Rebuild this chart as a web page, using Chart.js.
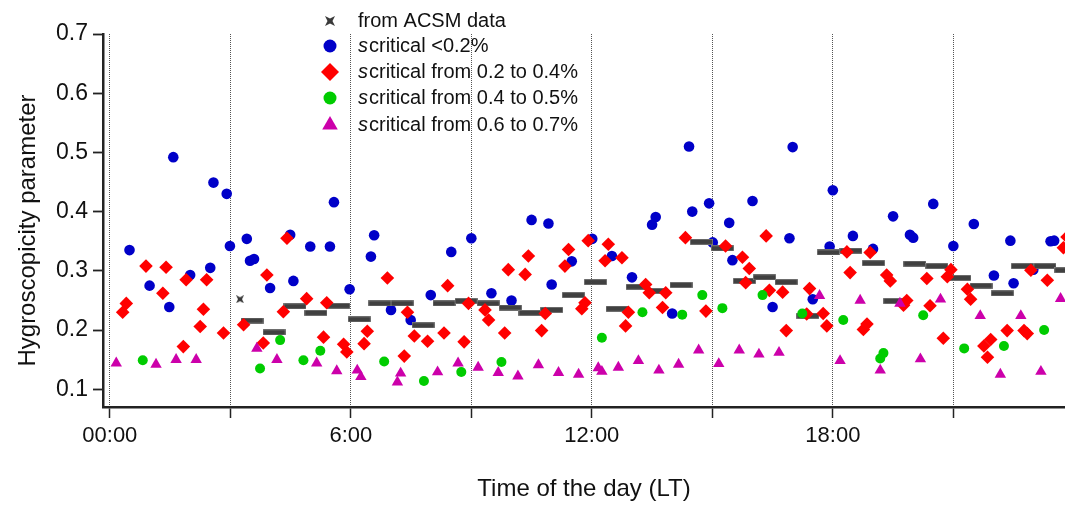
<!DOCTYPE html>
<html>
<head>
<meta charset="utf-8">
<script src="https://cdn.jsdelivr.net/npm/chart.js@4.4.1/dist/chart.umd.min.js"></script>
<style>
    body { margin: 0; background: #fff; }
</style>
</head>
<body>
<canvas id="kappaChart" width="1065" height="506"></canvas>
<script>
// Hygroscopicity parameter over the day, time in hours (LT)

// ACSM derived kappa (first value is a single sample, the rest are ~30 min means)
const acsmHours = [3.24, 3.54, 4.09, 4.61, 5.13, 5.70, 6.21, 6.72, 7.28, 7.80, 8.32, 8.87, 9.42, 9.97, 10.46, 11.00,
    11.54, 12.09, 12.63, 13.13, 13.62, 14.22, 14.73, 15.25, 15.80, 16.30, 16.84, 17.38, 17.89, 18.45, 19.01, 19.54,
    20.04, 20.59, 21.16, 21.69, 22.22, 22.72, 23.28, 23.80];
const acsmKappa = [0.252, 0.216, 0.196, 0.240, 0.229, 0.241, 0.218, 0.245, 0.245, 0.208, 0.245, 0.249, 0.245, 0.238, 0.229, 0.234,
    0.259, 0.281, 0.236, 0.273, 0.266, 0.276, 0.349, 0.338, 0.283, 0.289, 0.281, 0.224, 0.331, 0.334, 0.313, 0.249,
    0.312, 0.308, 0.288, 0.275, 0.262, 0.308, 0.308, 0.301];

// s critical < 0.2 %
const sc02Hours = [0.49, 0.99, 1.48, 1.58, 2.00, 2.50, 2.58, 2.91, 2.99, 3.41, 3.49, 3.59, 3.99, 4.49, 4.57, 4.99,
    5.48, 5.58, 5.97, 6.50, 6.58, 7.00, 7.49, 7.99, 8.50, 9.00, 9.50, 10.00, 10.50, 10.92, 11.00, 11.50,
    12.01, 12.50, 13.00, 13.50, 13.59, 14.00, 14.42, 14.50, 14.92, 15.01, 15.42, 15.50, 16.00, 16.50, 16.92, 17.00,
    17.50, 17.92, 18.00, 18.50, 19.00, 19.50, 19.92, 20.00, 20.50, 21.00, 21.51, 22.01, 22.42, 22.50, 22.99, 23.42, 23.51];
const sc02Kappa = [0.335, 0.275, 0.239, 0.492, 0.293, 0.305, 0.449, 0.430, 0.342, 0.354, 0.317, 0.320, 0.271, 0.361, 0.283, 0.341,
    0.341, 0.416, 0.269, 0.324, 0.360, 0.234, 0.217, 0.259, 0.332, 0.355, 0.262, 0.250, 0.386, 0.380, 0.277, 0.316,
    0.354, 0.325, 0.289, 0.378, 0.391, 0.228, 0.510, 0.400, 0.414, 0.348, 0.381, 0.318, 0.418, 0.239, 0.355, 0.509,
    0.252, 0.341, 0.436, 0.359, 0.337, 0.392, 0.361, 0.356, 0.413, 0.342, 0.379, 0.292, 0.351, 0.279, 0.302, 0.350, 0.351];

// s critical from 0.2 to 0.4 %
const sc24Hours = [0.32, 0.41, 0.90, 1.32, 1.40, 1.83, 1.90, 2.25, 2.33, 2.41, 2.83, 3.33, 3.82, 3.91, 4.32, 4.41,
    4.90, 5.32, 5.40, 5.82, 5.90, 6.33, 6.41, 6.91, 7.33, 7.41, 7.58, 7.91, 8.32, 8.41, 8.82, 8.93,
    9.34, 9.43, 9.83, 9.92, 10.34, 10.42, 10.75, 10.84, 11.33, 11.42, 11.75, 11.83, 11.91, 12.33, 12.41, 12.75,
    12.84, 12.91, 13.34, 13.43, 13.76, 13.84, 14.33, 14.84, 15.33, 15.75, 15.83, 15.92, 16.34, 16.42, 16.75, 16.84,
    17.35, 17.42, 17.76, 17.85, 18.35, 18.43, 18.76, 18.85, 18.93, 19.34, 19.43, 19.76, 19.84, 20.34, 20.42, 20.75,
    20.85, 20.94, 21.35, 21.43, 21.76, 21.85, 21.93, 22.34, 22.76, 22.84, 22.93, 23.34, 23.74, 23.83];
const sc24Kappa = [0.230, 0.245, 0.308, 0.262, 0.306, 0.172, 0.285, 0.206, 0.235, 0.285, 0.195, 0.209, 0.178, 0.293, 0.231, 0.355,
    0.253, 0.188, 0.246, 0.176, 0.163, 0.177, 0.198, 0.288, 0.156, 0.230, 0.190, 0.181, 0.195, 0.275, 0.180, 0.245,
    0.234, 0.217, 0.195, 0.302, 0.294, 0.325, 0.199, 0.228, 0.308, 0.336, 0.236, 0.246, 0.351, 0.317, 0.345, 0.322,
    0.207, 0.230, 0.277, 0.263, 0.238, 0.263, 0.356, 0.232, 0.342, 0.323, 0.280, 0.304, 0.359, 0.267, 0.264, 0.199,
    0.227, 0.270, 0.228, 0.207, 0.332, 0.297, 0.201, 0.210, 0.331, 0.293, 0.283, 0.242, 0.250, 0.287, 0.241, 0.186,
    0.290, 0.302, 0.269, 0.252, 0.173, 0.154, 0.184, 0.199, 0.199, 0.194, 0.301, 0.284, 0.339, 0.357];

// s critical from 0.4 to 0.5 %
const sc45Hours = [0.82, 3.74, 4.24, 4.82, 5.24, 6.83, 7.82, 8.75, 9.75, 12.25, 13.26, 14.25, 14.75, 15.25, 16.25, 17.24,
    18.26, 19.18, 19.26, 20.25, 21.27, 22.26, 23.26];
const sc45Kappa = [0.149, 0.135, 0.183, 0.149, 0.165, 0.147, 0.114, 0.129, 0.146, 0.187, 0.230, 0.226, 0.259, 0.237, 0.259, 0.228,
    0.217, 0.152, 0.161, 0.225, 0.169, 0.173, 0.200];

// s critical from 0.6 to 0.7 %
const sc67Hours = [0.16, 1.15, 1.65, 2.15, 3.66, 4.16, 5.15, 5.65, 6.16, 6.25, 7.16, 7.24, 8.16, 8.67, 9.17, 9.67,
    10.16, 10.67, 11.17, 11.67, 12.16, 12.25, 12.66, 13.16, 13.67, 14.16, 14.66, 15.16, 15.67, 16.16, 16.66, 17.67,
    18.18, 18.68, 19.18, 19.67, 20.18, 20.68, 21.67, 22.17, 22.68, 23.18, 23.67];
const sc67Kappa = [0.144, 0.142, 0.150, 0.150, 0.169, 0.150, 0.144, 0.131, 0.132, 0.121, 0.112, 0.127, 0.129, 0.144, 0.137, 0.128,
    0.122, 0.141, 0.128, 0.125, 0.136, 0.130, 0.137, 0.148, 0.132, 0.142, 0.166, 0.143, 0.166, 0.159, 0.162, 0.258,
    0.148, 0.250, 0.132, 0.245, 0.151, 0.252, 0.224, 0.125, 0.224, 0.130, 0.253];

const xTickHours = [0, 3, 6, 9, 12, 15, 18, 21];
const xTickLabels = ["00:00", "", "6:00", "", "12:00", "", "18:00", ""];
const yTickValues = [0.1, 0.2, 0.3, 0.4, 0.5, 0.6, 0.7];

const seriesNames = [
    "from ACSM data",
    "critical <0.2%",
    "critical from 0.2 to 0.4%",
    "critical from 0.4 to 0.5%",
    "critical from 0.6 to 0.7%",
];

const FONT = "'Liberation Sans', Arial, sans-serif";
const INK = "#111";

function toPoints(xs, ys) {
    return xs.map((x, i) => ({ x: x, y: ys[i] }));
}

// ACSM marks: a short thick bar for the averaged points, a small star for single ones
function makeBar(w, h) {
    const c = document.createElement("canvas");
    c.width = w;
    c.height = h;
    const g = c.getContext("2d");
    g.fillStyle = "#9a9a9a";
    g.fillRect(0, 0, w, h);
    g.fillStyle = "#404040";
    g.fillRect(0.5, 0.5, w - 1, h - 1);
    return c;
}

function makeStar(s) {
    const c = document.createElement("canvas");
    c.width = s;
    c.height = s;
    const g = c.getContext("2d");
    const m = s / 2, d = s * 0.25;
    g.fillStyle = "#3a3a3a";
    g.beginPath();
    g.moveTo(0, 0);
    g.lineTo(m, d);
    g.lineTo(s, 0);
    g.lineTo(s - d, m);
    g.lineTo(s, s);
    g.lineTo(m, s - d);
    g.lineTo(0, s);
    g.lineTo(d, m);
    g.closePath();
    g.fill();
    return c;
}

const acsmBar = makeBar(23, 6);
const acsmStar = makeStar(8);
const legendStar = makeStar(10);

// legend drawn over the top of the plot, as in the original figure
const legendPlugin = {
    id: "overlayLegend",
    afterDraw(chart) {
        const ctx = chart.ctx;
        const rows = [21, 46, 72, 98, 125];
        const markX = 330, textX = 358;
        const marks = [
            { style: legendStar, color: "#404040", r: 5 },
            { style: "circle", color: "#0000c8", r: 6.5 },
            { style: "rectRot", color: "#ff0000", r: 9 },
            { style: "circle", color: "#00cc00", r: 6.5 },
            { style: "triangle", color: "#cc00aa", r: 9 },
        ];
        ctx.save();
        marks.forEach((m, i) => {
            ctx.fillStyle = m.color;
            Chart.helpers.drawPoint(ctx, { pointStyle: m.style, radius: m.r, rotation: 0, borderWidth: 0 }, markX, rows[i]);
            ctx.fillStyle = INK;
            ctx.textBaseline = "middle";
            ctx.textAlign = "left";
            let x = textX;
            if (i > 0) {
                ctx.font = "italic 20px " + FONT;
                ctx.fillText("s", x, rows[i]);
                x += ctx.measureText("s").width + 1;
            }
            ctx.font = "20px " + FONT;
            ctx.fillText(seriesNames[i], x, rows[i]);
        });
        ctx.restore();
    },
};

const ctx = document.getElementById("kappaChart").getContext("2d");

new Chart(ctx, {
    type: "scatter",
    data: {
        datasets: [
            {
                label: seriesNames[0],
                data: toPoints(acsmHours, acsmKappa),
                pointStyle: (c) => (c.dataIndex === 0 ? acsmStar : acsmBar),
                order: 4,
            },
            {
                label: seriesNames[1],
                data: toPoints(sc02Hours, sc02Kappa),
                pointStyle: "circle",
                pointRadius: 5.3,
                backgroundColor: "#0000c8",
                borderWidth: 0,
                order: 5,
            },
            {
                label: seriesNames[2],
                data: toPoints(sc24Hours, sc24Kappa),
                pointStyle: "rectRot",
                pointRadius: 6.8,
                backgroundColor: "#ff0000",
                borderWidth: 0,
                order: 3,
            },
            {
                label: seriesNames[3],
                data: toPoints(sc45Hours, sc45Kappa),
                pointStyle: "circle",
                pointRadius: 5,
                backgroundColor: "#00cc00",
                borderWidth: 0,
                order: 2,
            },
            {
                label: seriesNames[4],
                data: toPoints(sc67Hours, sc67Kappa),
                pointStyle: "triangle",
                pointRadius: 6.6,
                backgroundColor: "#cc00aa",
                borderWidth: 0,
                order: 1,
            },
        ],
    },
    options: {
        responsive: false,
        animation: false,
        devicePixelRatio: 1,
        layout: { autoPadding: false, padding: { top: 34, right: 0, left: 0, bottom: 0 } },
        plugins: {
            legend: { display: false },
            tooltip: { enabled: false },
        },
        scales: {
            x: {
                type: "linear",
                min: -0.17,
                max: 23.78,
                afterFit: (scale) => { scale.height = 99; },
                afterBuildTicks: (scale) => {
                    scale.ticks = xTickHours.map((v) => ({ value: v }));
                },
                ticks: {
                    autoSkip: false,
                    maxRotation: 0,
                    padding: 5,
                    color: INK,
                    font: { family: FONT, size: 22 },
                    callback: (value) => xTickLabels[xTickHours.indexOf(value)] ?? "",
                },
                grid: {
                    color: "#555",
                    lineWidth: 1,
                    tickLength: 11,
                    tickColor: "#222",
                    tickWidth: 1.5,
                    tickBorderDash: [],
                },
                border: { display: true, color: "#222", width: 2.5, dash: [1, 1] },
                title: {
                    display: true,
                    text: "Time of the day (LT)",
                    color: INK,
                    font: { family: FONT, size: 24 },
                    padding: { top: 0, bottom: 2 },
                },
            },
            y: {
                min: 0.07,
                max: 0.7,
                afterFit: (scale) => { scale.width = 103; },
                afterBuildTicks: (scale) => {
                    scale.ticks = yTickValues.map((v) => ({ value: v }));
                },
                ticks: {
                    padding: 5,
                    color: INK,
                    font: { family: FONT, size: 23 },
                    callback: (value) => value.toFixed(1),
                },
                grid: {
                    drawOnChartArea: false,
                    tickLength: 10,
                    tickColor: "#222",
                    tickWidth: 1.8,
                },
                border: { display: true, color: "#222", width: 2.5 },
                title: {
                    display: true,
                    // trailing spaces nudge the rotated label down to where it sits in the original
                    text: "Hygroscopicity parameter   ",
                    color: INK,
                    font: { family: FONT, size: 24 },
                    padding: { top: 14, bottom: 0 },
                },
            },
        },
    },
    plugins: [legendPlugin],
});
</script>
</body>
</html>
